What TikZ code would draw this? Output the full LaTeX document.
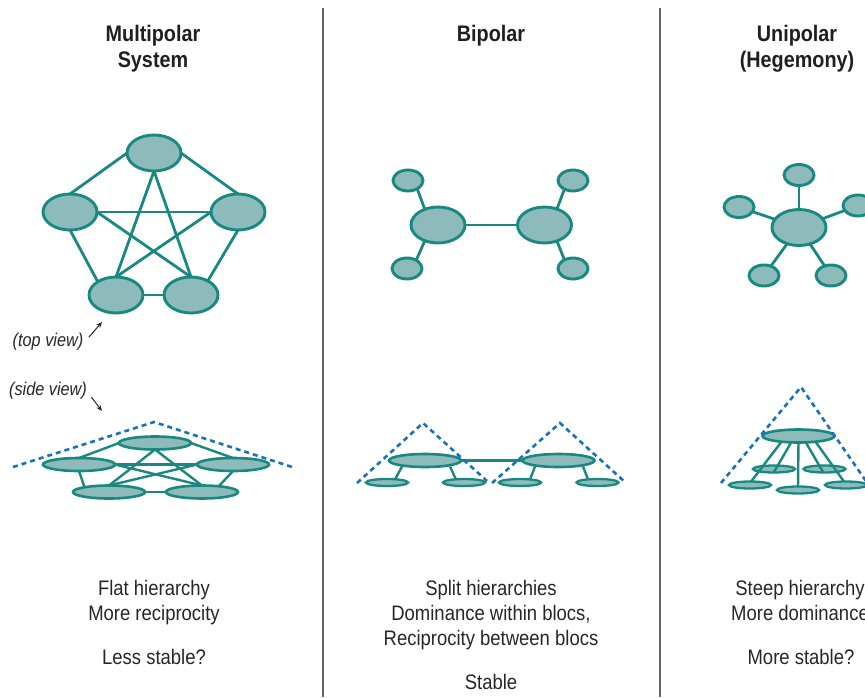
\documentclass[tikz,border=0pt]{standalone}
\usepackage{fontspec}
\setmainfont{Liberation Sans}[FakeStretch=0.88]
\usetikzlibrary{shapes.geometric,calc,arrows.meta,backgrounds}
\definecolor{tealstroke}{RGB}{24,136,128}
\definecolor{tealfill}{RGB}{141,186,186}
\definecolor{dashblue}{RGB}{22,114,188}
\begin{document}
\begin{tikzpicture}[x=1pt,y=-1pt,
  big/.style={ellipse,draw=tealstroke,fill=tealfill,line width=2.9pt,minimum width=54pt,minimum height=36pt,inner sep=0pt,outer sep=0pt},
  small/.style={big,minimum width=30pt,minimum height=21pt},
  flat/.style={big,minimum width=72pt,minimum height=13pt,line width=2.6pt},
  flatsm/.style={big,minimum width=42pt,minimum height=7pt,line width=2.3pt},
  link/.style={draw=tealstroke,line width=2.8pt},
  thinlink/.style={draw=tealstroke,line width=2.4pt},
  hull/.style={draw=dashblue,line width=2.6pt,dash pattern=on 5pt off 4pt},
  divider/.style={draw=black!60,line width=1.2pt},
  title/.style={font=\bfseries\fontsize{22.5}{27}\selectfont,anchor=base,text=black!88},
  body/.style={font=\fontsize{21}{25}\selectfont,anchor=base,text=black!85},
  note/.style={font=\itshape\fontsize{18.5}{22}\selectfont,anchor=base,text=black!85},
  pointer/.style={draw=black!85,line width=1pt,-{Stealth[length=6pt,width=5pt]}}]
\useasboundingbox (0,0) rectangle (865,697);
\clip (0,0) rectangle (865,697);

% dividers
\draw[divider] (323,8) -- (323,697);
\draw[divider] (660,8) -- (660,697);

% titles
\node[title] (h1a) at (153,41) {Multipolar};
\node[title] (h1b) at (153,67) {System};
\node[title] (h2) at (491,41) {Bipolar};
\node[title] (h3a) at (797,41) {Unipolar};
\node[title] (h3b) at (797,67) {(Hegemony)};

% ---------- Multipolar top view ----------
\node[big] (mT) at (154,153) {};
\node[big] (mL) at (70,212) {};
\node[big] (mR) at (238,212) {};
\node[big] (mBL) at (116,295) {};
\node[big] (mBR) at (191,295) {};
\begin{scope}[on background layer]
\draw[link] (mT.west) -- (mL.north);
\draw[link] (mT.east) -- (mR.north);
\draw[link] (mL.south) -- (mBL.144);
\draw[link] (mR.south) -- (mBR.40);
\draw[link] (mBL.east) -- (mBR.west);
\draw[link] (mT.south) -- (mBL.north);
\draw[link] (mT.south) -- (mBR.north);
\draw[link] (mL.east) -- (mR.west);
\draw[link] (mL.east) -- (mBR.north);
\draw[link] (mR.west) -- (mBL.north);
\end{scope}

% labels
\node[note] (tv) at (48,346) {(top view)};
\coordinate (tvTip) at (102,322);
\draw[pointer] ($(tv.east)+(2,-4)$) -- (tvTip);
\node[note] (sv) at (48,395) {(side view)};
\coordinate (svTip) at (102,411);
\draw[pointer] ($(sv.east)+(1,7)$) -- (svTip);

% ---------- Multipolar side view ----------
\node[flat] (sT) at (155,443) {};
\node[flat] (sL) at (79,464.5) {};
\node[flat] (sR) at (233,464.5) {};
\node[flat] (sBL) at (109,492) {};
\node[flat] (sBR) at (202,492) {};
\begin{scope}[on background layer]
\draw[thinlink] (sT.west) -- (sL.north);
\draw[thinlink] (sT.east) -- (sR.north);
\draw[thinlink] (sL.south) -- (sBL.169);
\draw[thinlink] (sR.south) -- (sBR.19);
\draw[thinlink] (sBL.east) -- (sBR.west);
\draw[thinlink] (sT.south) -- (sBL.north);
\draw[thinlink] (sT.south) -- (sBR.north);
\draw[thinlink] (sL.east) -- (sR.west);
\draw[thinlink] (sL.east) -- (sBR.north);
\draw[thinlink] (sR.west) -- (sBL.north);
\end{scope}
\coordinate (mh1) at (13,467);
\coordinate (mh2) at (154,422);
\coordinate (mh3) at (292,467);
\draw[hull] (mh1) -- (mh2) -- (mh3);

% ---------- Bipolar top view ----------
\node[big] (bL) at (438,225) {};
\node[big] (bR) at (544.5,225) {};
\node[small] (bTL) at (408,180.5) {};
\node[small] (bBL) at (407,268.5) {};
\node[small] (bTR) at (573,180.5) {};
\node[small] (bBR) at (573,268.5) {};
\begin{scope}[on background layer]
\draw[link] (bL.east) -- (bR.west);
\draw[link] (bTL.-42) -- (bL.130);
\draw[link] (bBL.42) -- (bL.-130);
\draw[link] (bTR.-135) -- (bR.52);
\draw[link] (bBR.135) -- (bR.-52);
\end{scope}

% ---------- Bipolar side view ----------
\node[flat] (bsL) at (425,460.5) {};
\node[flat] (bsR) at (558.5,460.5) {};
\node[flatsm] (bs1) at (387,482.5) {};
\node[flatsm] (bs2) at (464,482.5) {};
\node[flatsm] (bs3) at (520,482.5) {};
\node[flatsm] (bs4) at (597.5,482.5) {};
\begin{scope}[on background layer]
\draw[thinlink] (bsL.east) -- (bsR.west);
\draw[thinlink] ($(bsL)+(-23,6)$) -- ($(bs1)+(8,-3)$);
\draw[thinlink] ($(bsL)+(25,6)$) -- ($(bs2)+(-8,-3)$);
\draw[thinlink] ($(bsR)+(-23.5,6)$) -- ($(bs3)+(10,-3)$);
\draw[thinlink] ($(bsR)+(24.5,6)$) -- ($(bs4)+(-9.5,-3)$);
\end{scope}
\coordinate (bh1) at (357,483);
\coordinate (bh2) at (423,423);
\coordinate (bh3) at (487,481);
\coordinate (bh4) at (492,483);
\coordinate (bh5) at (560,423);
\coordinate (bh6) at (626,483);
\draw[hull] (bh1) -- (bh2) -- (bh3);
\draw[hull] (bh4) -- (bh5) -- (bh6);

% ---------- Unipolar top view ----------
\node[big] (uC) at (799,227.5) {};
\node[small] (uT) at (799,175) {};
\node[small] (uL) at (739,207) {};
\node[small] (uR) at (858,205.5) {};
\node[small] (uBL) at (764,275.5) {};
\node[small] (uBR) at (831,275.5) {};
\begin{scope}[on background layer]
\draw[link] (uC) -- (uT);
\draw[link] (uC) -- (uL);
\draw[link] (uC) -- (uR);
\draw[link] (uC) -- (uBL);
\draw[link] (uC) -- (uBR);
\end{scope}

% ---------- Unipolar side view ----------
\coordinate (usTc) at (798.5,436);
\coordinate (usBLc) at (750,485);
\coordinate (usBMc) at (798,490);
\coordinate (usBRc) at (846,485);
\node[flatsm] (usML) at (774,469) {};
\node[flatsm] (usMR) at (824.5,469) {};
\draw[thinlink] ($(usTc)+(-16.5,5)$) -- ($(usBLc)+(0,-2)$);
\draw[thinlink] ($(usTc)+(-6.5,5)$) -- ($(usML)+(0,3)$);
\draw[thinlink] ($(usTc)+(0,5)$) -- ($(usBMc)+(0,-2)$);
\draw[thinlink] ($(usTc)+(6.5,5)$) -- ($(usMR)+(-1.5,3)$);
\draw[thinlink] ($(usTc)+(16.5,5)$) -- ($(usBRc)+(-1,-2)$);
\node[flat] (usT) at (usTc) {};
\node[flatsm] (usBL) at (usBLc) {};
\node[flatsm] (usBM) at (usBMc) {};
\node[flatsm] (usBR) at (usBRc) {};
\coordinate (uh1) at (721,483);
\coordinate (uh2) at (801,387);
\coordinate (uh3) at (868,484);
\draw[hull] (uh1) -- (uh2) -- (uh3);

% ---------- bottom texts ----------
\node[body] (c1a) at (154,595) {Flat hierarchy};
\node[body] (c1b) at (154,620) {More reciprocity};
\node[body] (c1c) at (154,664) {Less stable?};
\node[body] (c2a) at (491,595) {Split hierarchies};
\node[body] (c2b) at (491,620) {Dominance within blocs,};
\node[body] (c2c) at (491,645) {Reciprocity between blocs};
\node[body] (c2d) at (491,689) {Stable};
\node[body] (c3a) at (800,595) {Steep hierarchy};
\node[body] (c3b) at (800,620) {More dominance};
\node[body] (c3c) at (801,664) {More stable?};
\end{tikzpicture}
\end{document}
